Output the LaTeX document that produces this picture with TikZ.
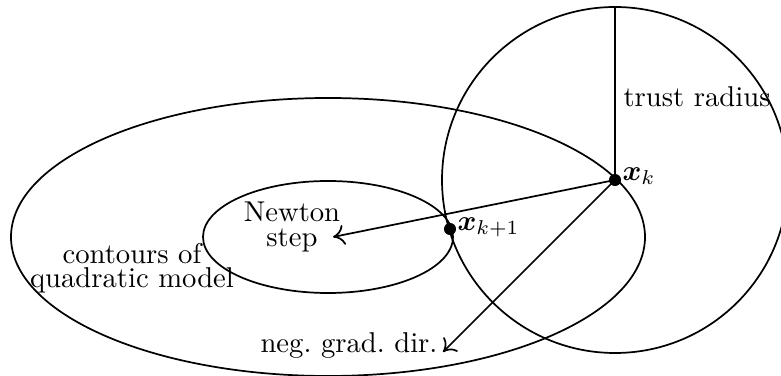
\documentclass[tikz,border=0pt]{standalone}
\usepackage{bm}
\usetikzlibrary{arrows.meta}
\begin{document}
\begin{tikzpicture}[x=0.349pt,y=-0.349pt,
  curve/.style={line width=0.6pt},
  arr/.style={line width=0.6pt,-{To[length=4pt,width=7pt]}},
  lbl/.style={inner sep=0pt,align=center,font=\normalsize},
  dot/.style={circle,fill=black,inner sep=0pt,minimum size=4.2pt}]
\useasboundingbox (0,0) rectangle (781,376);
\coordinate (c) at (328,237);
\node[dot] (xk) at (615,180) {};
\node[dot] (xk1) at (450,229) {};
\coordinate (top) at (615,6);
\coordinate (nend) at (333,237);
\coordinate (gend) at (443,352);
\draw[curve] (c) ellipse [x radius=317, y radius=139];
\draw[curve] (c) ellipse [x radius=125, y radius=56];
\draw[curve] (xk.center) circle [radius=173];
\draw[curve] (xk.center) -- (top);
\draw[arr] (xk.center) -- (nend);
\draw[arr] (xk.center) -- (gend);
\node[lbl,anchor=west] (lk) at (622,176) {$\bm{x}_k$};
\node[lbl,anchor=west] (lk1) at (457,227) {$\bm{x}_{k+1}$};
\node[lbl,anchor=west] (tr) at (623,97) {trust radius};
\node[lbl] (nt) at (292,227) {Newton\\[-3.5pt]step};
\node[lbl] (cq) at (132,268) {contours of\\[-3.5pt]quadratic model};
\node[lbl,anchor=east] (ng) at (438,346) {neg.\ grad.\ dir.};
\end{tikzpicture}
\end{document}
